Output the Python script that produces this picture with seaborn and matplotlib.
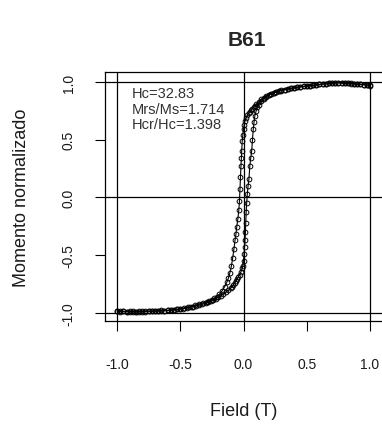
import matplotlib
matplotlib.use("Agg")
import matplotlib.pyplot as plt
import seaborn as sns
import pandas as pd

# Ramo descendente (campo de +1 a -1 T)
campo_desc = [1.0, 0.975, 0.95, 0.925, 0.9, 0.875, 0.85, 0.825, 0.8, 0.775,
              0.75, 0.725, 0.7, 0.675, 0.65, 0.625, 0.6, 0.575, 0.55, 0.525,
              0.5, 0.475, 0.45, 0.425, 0.4, 0.375, 0.35, 0.325, 0.3,
              0.28, 0.26, 0.24, 0.22, 0.2, 0.18, 0.16, 0.14, 0.12, 0.1,
              0.09, 0.08, 0.07, 0.06, 0.05, 0.04, 0.03, 0.02, 0.01,
              0.005, 0.0,
              -0.005, -0.01, -0.014, -0.017, -0.02, -0.024, -0.028, -0.032, -0.037, -0.045,
              -0.054, -0.06, -0.067, -0.076, -0.085, -0.095, -0.107, -0.12, -0.13,
              -0.15, -0.17, -0.19, -0.21, -0.23, -0.25, -0.27, -0.29,
              -0.32, -0.35, -0.38, -0.41, -0.44, -0.47, -0.5,
              -0.525, -0.55, -0.575, -0.6, -0.625, -0.65, -0.675, -0.7, -0.725, -0.75,
              -0.775, -0.8, -0.825, -0.85, -0.875, -0.9, -0.925, -0.95, -0.975, -1.0]
momento_desc = [0.970, 0.975, 0.978, 0.980, 0.983, 0.985, 0.987, 0.989, 0.991, 0.993,
                0.995, 0.993, 0.990, 0.992, 0.986, 0.983, 0.979, 0.976, 0.972, 0.969,
                0.966, 0.962, 0.958, 0.955, 0.950, 0.945, 0.940, 0.935, 0.928,
                0.922, 0.915, 0.908, 0.900, 0.890, 0.878, 0.865, 0.850, 0.830, 0.808,
                0.795, 0.782, 0.770, 0.757, 0.742, 0.728, 0.712, 0.690, 0.660,
                0.630, 0.590,
                0.545, 0.490, 0.405, 0.340, 0.275, 0.175, 0.070, -0.030, -0.110, -0.190,
                -0.260, -0.320, -0.370, -0.450, -0.520, -0.590, -0.650, -0.700, -0.730,
                -0.775, -0.810, -0.838, -0.858, -0.873, -0.885, -0.895, -0.905,
                -0.915, -0.925, -0.935, -0.945, -0.952, -0.960, -0.965,
                -0.970, -0.972, -0.975, -0.978, -0.980, -0.978, -0.982, -0.985, -0.983, -0.986,
                -0.988, -0.985, -0.988, -0.990, -0.987, -0.985, -0.988, -0.986, -0.983, -0.980]

# Ramo ascendente (campo de -1 a +1 T)
campo_asc = [-1.0, -0.975, -0.95, -0.925, -0.9, -0.875, -0.85, -0.825, -0.8, -0.775,
             -0.75, -0.725, -0.7, -0.675, -0.65, -0.625, -0.6, -0.575, -0.55, -0.525,
             -0.5, -0.475, -0.45, -0.425, -0.4, -0.375, -0.35, -0.325, -0.3,
             -0.28, -0.26, -0.24, -0.22, -0.2, -0.18, -0.16, -0.14, -0.12, -0.1,
             -0.09, -0.08, -0.07, -0.06, -0.05, -0.04, -0.03, -0.02, -0.01,
             -0.005, 0.0,
             0.004, 0.008, 0.012, 0.015, 0.018, 0.021, 0.025, 0.03, 0.036, 0.043,
             0.05, 0.057, 0.065, 0.071, 0.077, 0.083, 0.09,
             0.1, 0.11, 0.12, 0.14, 0.16, 0.18, 0.2, 0.22, 0.24, 0.26, 0.28,
             0.3, 0.325, 0.35, 0.375, 0.4, 0.425, 0.45, 0.475, 0.5, 0.525,
             0.55, 0.575, 0.6, 0.625, 0.65, 0.675, 0.7, 0.725, 0.75, 0.775,
             0.8, 0.825, 0.85, 0.875, 0.9, 0.925, 0.95, 0.975, 1.0]
momento_asc = [-0.985, -0.988, -0.986, -0.989, -0.991, -0.988, -0.990, -0.987, -0.989, -0.986,
               -0.984, -0.986, -0.983, -0.981, -0.983, -0.980, -0.978, -0.976, -0.973, -0.970,
               -0.967, -0.963, -0.958, -0.953, -0.947, -0.940, -0.933, -0.925, -0.917,
               -0.908, -0.898, -0.888, -0.877, -0.865, -0.852, -0.838, -0.822, -0.805, -0.785,
               -0.772, -0.758, -0.742, -0.725, -0.708, -0.690, -0.668, -0.642, -0.612,
               -0.590, -0.550,
               -0.490, -0.430, -0.370, -0.300, -0.220, -0.130, -0.050, 0.030, 0.100, 0.160,
               0.275, 0.340, 0.405, 0.500, 0.590, 0.650, 0.710,
               0.750, 0.780, 0.803, 0.835, 0.856, 0.872, 0.885, 0.896, 0.905, 0.913, 0.920,
               0.926, 0.933, 0.939, 0.945, 0.950, 0.955, 0.959, 0.963, 0.966, 0.969,
               0.973, 0.976, 0.979, 0.983, 0.986, 0.990, 0.988, 0.993, 0.996, 0.992,
               0.994, 0.990, 0.988, 0.986, 0.984, 0.981, 0.978, 0.975, 0.972]

titulo = "B61"
anotacao = ["Hc=32.83", "Mrs/Ms=1.714", "Hcr/Hc=1.398"]
ticks = [-1.0, -0.5, 0.0, 0.5, 1.0]
tick_labels = ["-1.0", "-0.5", "0.0", "0.5", "1.0"]

sns.set_style("white")
plt.rcParams['font.family'] = ['Liberation Sans', 'DejaVu Sans']
plt.rcParams['axes.unicode_minus'] = False

fig = plt.figure(figsize=(3.82, 4.27), dpi=100)
ax = fig.add_axes([105 / 382, 1 - 322 / 427, 277 / 382, 249 / 427])

for campo, momento in [(campo_desc, momento_desc), (campo_asc, momento_asc)]:
    df = pd.DataFrame({'campo': campo, 'momento': momento})
    sns.lineplot(data=df, x='campo', y='momento', sort=False, estimator=None,
                 color='black', linewidth=0.8, marker='o', markersize=3.4,
                 markerfacecolor='none', markeredgecolor='black',
                 markeredgewidth=0.7, ax=ax)

for v in [-1, 0, 1]:
    ax.axhline(v, color='black', linewidth=0.9, zorder=0)
    ax.axvline(v, color='black', linewidth=0.9, zorder=0)

ax.set_xlim(-1.095, 1.095)
ax.set_ylim(-1.07, 1.087)
ax.set_xticks(ticks)
ax.set_xticklabels(tick_labels)
ax.set_yticks(ticks)
ax.set_yticklabels(tick_labels, rotation=90, va='center')
ax.tick_params(axis='both', direction='out', length=7, width=0.8, color='black',
               labelsize=10, labelcolor='#1a1a1a', bottom=True, left=True)
ax.tick_params(axis='x', pad=19)
ax.tick_params(axis='y', pad=14)

for s in ['left', 'top', 'bottom']:
    ax.spines[s].set_color('black')
    ax.spines[s].set_linewidth(0.9)
ax.spines['right'].set_visible(False)

ax.set_xlabel("Field (T)", fontsize=13, color='#1a1a1a')
ax.set_ylabel("Momento normalizado", fontsize=13, color='#1a1a1a')
ax.xaxis.set_label_coords(0.5, -0.325)
ax.yaxis.set_label_coords(-0.27, 0.5)

ax.text(-0.884, 0.965, "\n".join(anotacao), fontsize=10.5, color='#333333',
        va='top', ha='left', linespacing=1.15)

fig.text(247 / 382, 1 - 40 / 427, titulo, fontsize=15, fontweight='bold',
         ha='center', va='center')

fig.savefig("out.png", dpi=100)
